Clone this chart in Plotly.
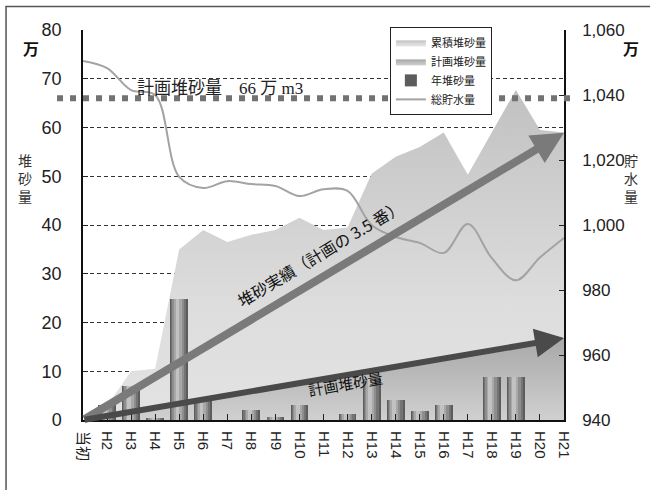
import plotly.graph_objects as go

# Survey years (heisei) and measured values, in units of 10,000 m3
categories = ["当初", "H2", "H3", "H4", "H5", "H6", "H7", "H8", "H9", "H10", "H11",
              "H12", "H13", "H14", "H15", "H16", "H17", "H18", "H19", "H20", "H21"]
cumulative_sediment = [0, 3, 10, 10.5, 35, 39, 36.5, 38, 39, 41.5, 39,
                       39.5, 50.5, 54, 56, 59, 50.3, 59, 67.7, 59.5, 59]
annual_sediment = [0, 3.1, 7, 0.5, 24.8, 4, 0, 2, 0.7, 3, 0,
                   1.2, 8.5, 4.1, 1.8, 3, 0, 8.9, 8.8, 0, 0]
total_storage = [1050.5, 1048.3, 1041.5, 1040, 1014.8, 1011.4, 1013.5, 1012.6, 1012, 1008.9, 1011,
                 1010.5, 1000, 996.3, 994.5, 991.4, 1000.3, 989.8, 983, 990, 996]

# Planned sedimentation: start and end of the planned trend
plan_index = [0, 20]
plan_sediment = [0, 16.8]
actual_trend_end = 58.9
plan_capacity = 66

left_ticks = [0, 10, 20, 30, 40, 50, 60, 70, 80]
right_ticks = [940, 960, 980, 1000, 1020, 1040, 1060]

x_pos = list(range(len(categories)))

NUM_FONT = "Liberation Sans Narrow, Liberation Sans, Arial, sans-serif"
JP_FONT = "Noto Sans CJK JP, sans-serif"

fig = go.Figure()

# Cumulative sediment area (bottom layer)
fig.add_trace(go.Scatter(
    x=x_pos, y=cumulative_sediment, name="累積堆砂量", mode="lines",
    line=dict(width=0, color="#c8c8c8"), fill="tozeroy",
    fillgradient=dict(type="vertical",
                      colorscale=[[0, "#e3e3e3"], [0.35, "#dddddd"], [1, "#c1c1c1"]]),
    legendrank=1, xaxis="x", yaxis="y"))

# Planned sediment area
fig.add_trace(go.Scatter(
    x=plan_index, y=plan_sediment, name="計画堆砂量", mode="lines",
    line=dict(width=0, color="#b0b0b0"), fill="tozeroy",
    fillgradient=dict(type="vertical",
                      colorscale=[[0, "#d0d0d0"], [1, "#a8a8a8"]]),
    legendrank=2, xaxis="x", yaxis="y"))

# Annual sediment bars, shaded in layers to give a cylinder look
bar_layers = [
    (0.74, 0.00, "#5c5c5c"),
    (0.62, -0.02, "#747474"),
    (0.48, -0.04, "#8e8e8e"),
    (0.32, -0.06, "#a8a8a8"),
    (0.16, -0.07, "#c2c2c2"),
]
for i, (w, shift, col) in enumerate(bar_layers):
    fig.add_trace(go.Bar(
        x=x_pos, y=annual_sediment, name="年堆砂量",
        width=w, offset=-w / 2 + shift,
        marker=dict(color=col, line=dict(width=0)),
        showlegend=(i == 0), legendrank=3, xaxis="x", yaxis="y2"))

# Total storage line on the right axis
fig.add_trace(go.Scatter(
    x=x_pos, y=total_storage, name="総貯水量", mode="lines",
    line=dict(color="#a3a3a3", width=2, shape="spline", smoothing=1.0),
    legendrank=4, xaxis="x", yaxis="y3"))

annotations = [
    # Actual sedimentation trend arrow
    dict(x=x_pos[-1], y=actual_trend_end, ax=x_pos[0], ay=0,
         xref="x", yref="y", axref="x", ayref="y", text="",
         showarrow=True, arrowhead=2, arrowsize=0.8, arrowwidth=8,
         arrowcolor="#7a7a7a", standoff=0),
    # Planned sedimentation trend arrow
    dict(x=plan_index[1], y=plan_sediment[1], ax=plan_index[0], ay=plan_sediment[0],
         xref="x", yref="y", axref="x", ayref="y", text="",
         showarrow=True, arrowhead=2, arrowsize=0.97, arrowwidth=6,
         arrowcolor="#4a4a4a", standoff=0),
    dict(x=9.85, y=34.3, xref="x", yref="y", text="堆砂実績（計画の 3.5 番）",
         showarrow=False, textangle=-31, font=dict(family=JP_FONT, size=16, color="#111")),
    dict(x=10.9, y=7.4, xref="x", yref="y", text="計画堆砂量",
         showarrow=False, textangle=-10, font=dict(family=JP_FONT, size=15, color="#111")),
    dict(x=2.16, y=68.1, xref="x", yref="y", xanchor="left", text="計画堆砂量　66 万 m3",
         showarrow=False,
         font=dict(family="Liberation Serif, Noto Sans CJK JP, serif", size=17, color="#222")),
    dict(x=-0.108, y=0.954, xref="paper", yref="paper", xanchor="center", yanchor="middle",
         text="<b>万</b>", showarrow=False, font=dict(family=JP_FONT, size=16, color="#111")),
    dict(x=1.139, y=0.954, xref="paper", yref="paper", xanchor="center", yanchor="middle",
         text="<b>万</b>", showarrow=False, font=dict(family=JP_FONT, size=16, color="#111")),
    dict(x=-0.1206, y=0.6205, xref="paper", yref="paper", xanchor="center", yanchor="middle",
         text="堆<br>砂<br>量", showarrow=False, font=dict(family=JP_FONT, size=14, color="#333")),
    dict(x=1.1393, y=0.6205, xref="paper", yref="paper", xanchor="center", yanchor="middle",
         text="貯<br>水<br>量", showarrow=False, font=dict(family=JP_FONT, size=14, color="#333")),
]

shapes = [
    # Planned capacity level
    dict(type="line", xref="paper", yref="y", x0=-0.054, x1=1.025,
         y0=plan_capacity, y1=plan_capacity,
         line=dict(color="#727272", width=6, dash="6px,7px"), layer="above"),
    # Outer frame
    dict(type="rect", xref="paper", yref="paper", x0=-0.160, x1=1.3,
         y0=-0.3, y1=1.06, line=dict(color="#555", width=1.5), layer="above"),
]

fig.update_layout(
    width=650, height=490,
    margin=dict(l=83, r=86, t=30, b=70, pad=0),
    paper_bgcolor="white", plot_bgcolor="white",
    barmode="overlay", bargap=0,
    showlegend=True,
    legend=dict(x=0.638, y=1.008, xanchor="left", yanchor="top",
                bgcolor="white", bordercolor="#222", borderwidth=1,
                font=dict(family=JP_FONT, size=11, color="#222"),
                itemwidth=30, tracegroupgap=0, traceorder="normal"),
    xaxis=dict(range=[0, 20], tickmode="array", tickvals=x_pos, ticktext=categories,
               tickangle=90, ticks="inside", ticklen=6, tickcolor="#222",
               showline=True, linecolor="#111", linewidth=2, showgrid=False,
               zeroline=False, ticklabelstandoff=6,
               tickfont=dict(family="Liberation Sans, Noto Sans CJK JP", size=15, color="#222")),
    yaxis=dict(range=[0, 80], tickmode="array", tickvals=left_ticks,
               ticks="inside", ticklen=5, tickcolor="#222",
               showline=True, linecolor="#111", linewidth=1.5,
               showgrid=True, gridcolor="#333", gridwidth=1, griddash="4px,3px",
               zeroline=False, ticklabelstandoff=16,
               tickfont=dict(family=NUM_FONT, size=18, color="#222")),
    yaxis2=dict(range=[0, 80], overlaying="y", visible=False),
    yaxis3=dict(range=[940, 1060], overlaying="y", side="right",
                tickmode="array", tickvals=right_ticks, tickformat=",d",
                ticks="inside", ticklen=5, tickcolor="#222",
                showline=True, linecolor="#111", linewidth=1.5,
                showgrid=False, zeroline=False, ticklabelstandoff=13,
                tickfont=dict(family=NUM_FONT, size=17, color="#222")),
    annotations=annotations,
    shapes=shapes,
)

fig.write_html("out.html")
